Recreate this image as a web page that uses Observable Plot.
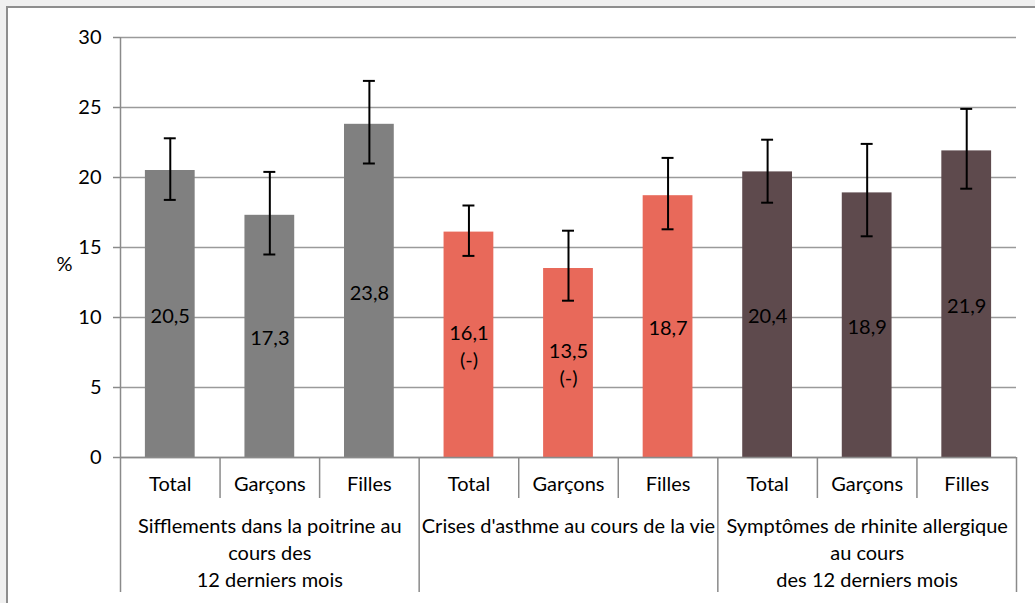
<!DOCTYPE html>
<html>
<head>
<meta charset="utf-8">
<script src="https://cdn.jsdelivr.net/npm/d3@7"></script>
<script src="https://cdn.jsdelivr.net/npm/@observablehq/plot@0.6"></script>
<style>
  html, body { margin: 0; padding: 0; background: #f0f0f0; width: 1035px; height: 603px; overflow: hidden; }
  #frame { position: absolute; left: 6px; top: 6px; width: 1060px; height: 640px; background: #fff; border: 2px solid #8e8e8e; }
  #chart { position: absolute; left: 0; top: 0; }
</style>
</head>
<body>
<div id="frame"></div>
<div id="chart"></div>
<script>
const groups = [
  "Sifflements dans la poitrine au\ncours des\n12 derniers mois",
  "Crises d'asthme au cours de la vie",
  "Symptômes de rhinite allergique\nau cours\ndes 12 derniers mois"
];
const subgroups = ["Total", "Garçons", "Filles"];
const values = [20.5, 17.3, 23.8, 16.1, 13.5, 18.7, 20.4, 18.9, 21.9];
const lows   = [18.4, 14.5, 21.0, 14.4, 11.2, 16.3, 18.2, 15.8, 19.2];
const highs  = [22.8, 20.4, 26.9, 18.0, 16.2, 21.4, 22.7, 22.4, 24.9];
const labels = ["20,5", "17,3", "23,8", "16,1\n(-)", "13,5\n(-)", "18,7", "20,4", "18,9", "21,9"];
const groupColors = ["#808080", "#E8695A", "#5E4A4D"];
const yTicks = [0, 5, 10, 15, 20, 25, 30];

const data = values.map((v, i) => ({
  i,
  g: Math.floor(i / 3),
  group: groups[Math.floor(i / 3)],
  sub: subgroups[i % 3],
  value: v,
  lo: lows[i],
  hi: highs[i],
  label: labels[i]
}));
const boundaries = d3.range(values.length + 1).map(k => k - 0.5);
const groupBoundaries = boundaries.filter((b, k) => k % 3 === 0);
const subBoundaries = boundaries.filter((b, k) => k % 3 !== 0);
const groupCenters = groups.map((g, k) => ({x: k * 3 + 1, text: g}));

const font = "Lato, 'Open Sans', sans-serif";
const plot = Plot.plot({
  width: 1035,
  height: 603,
  marginLeft: 120,
  marginRight: 19,
  marginTop: 37,
  marginBottom: 146,
  style: {background: "transparent", fontFamily: font, color: "#000", overflow: "visible"},
  x: {domain: [-0.5, 8.5], axis: null},
  y: {domain: [0, 30], axis: null},
  color: {domain: groups, range: groupColors},
  marks: [
    Plot.gridY(yTicks, {stroke: "#9a9a9a", strokeOpacity: 1, strokeWidth: 1.5}),
    Plot.axisY(yTicks, {tickSize: 7, tickPadding: 12, stroke: "#8a8a8a", strokeWidth: 1.5, fontSize: 20, fill: "#000", label: null}),
    Plot.text(["%"], {frameAnchor: "left", dx: -64, dy: 17, fontSize: 20, fill: "#000"}),
    Plot.rectY(data, {x1: d => d.i - 0.25, x2: d => d.i + 0.25, y: "value", fill: "group"}),
    Plot.ruleX(data, {x: "i", y1: "lo", y2: "hi", stroke: "#000", strokeWidth: 2}),
    Plot.ruleY(data, {x1: d => d.i - 0.06, x2: d => d.i + 0.06, y: "lo", stroke: "#000", strokeWidth: 2}),
    Plot.ruleY(data, {x1: d => d.i - 0.06, x2: d => d.i + 0.06, y: "hi", stroke: "#000", strokeWidth: 2}),
    Plot.text(data, {x: "i", y: d => d.value / 2, text: "label", fontSize: 20, lineHeight: 1.35, fill: "#000"}),
    Plot.ruleX([-0.5], {stroke: "#8a8a8a", strokeWidth: 1.5}),
    Plot.ruleY([0], {stroke: "#8a8a8a", strokeWidth: 1.5}),
    Plot.axisX(subBoundaries, {tickSize: 41, tickFormat: () => "", stroke: "#8a8a8a", strokeWidth: 1.5, label: null}),
    Plot.axisX(groupBoundaries, {tickSize: 135, tickFormat: () => "", stroke: "#8a8a8a", strokeWidth: 1.5, label: null}),
    Plot.text(data, {x: "i", text: "sub", frameAnchor: "bottom", lineAnchor: "top", dy: 19, fontSize: 20, fill: "#000"}),
    Plot.text(groupCenters, {x: "x", text: "text", frameAnchor: "bottom", lineAnchor: "top", dy: 57, fontSize: 20, lineHeight: 1.333, fill: "#000"})
  ]
});
document.getElementById("chart").appendChild(plot);
</script>
</body>
</html>
